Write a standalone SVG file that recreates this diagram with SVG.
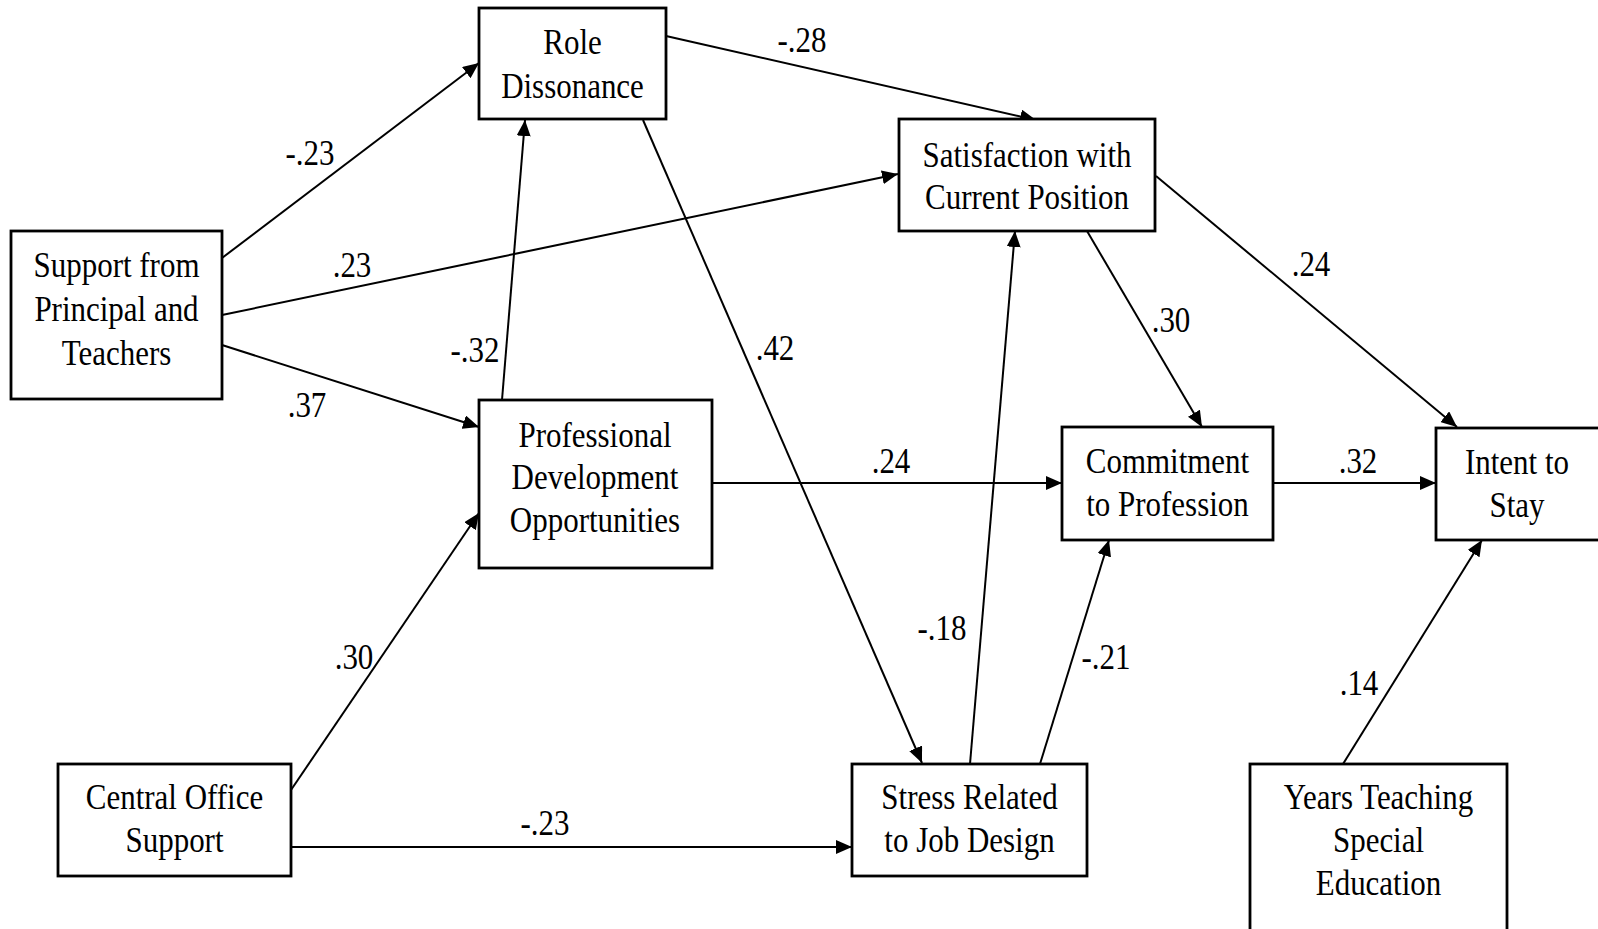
<svg xmlns="http://www.w3.org/2000/svg" width="1598" height="929" viewBox="0 0 1598 929">
<style>
.box{fill:#fff;stroke:#000;stroke-width:2.8}
.lbl{font-family:"Liberation Serif","Times New Roman",serif;font-size:35px;fill:#000;text-anchor:middle}
.edge{stroke:#000;stroke-width:2;fill:none;marker-end:url(#ah)}
</style>
<defs>
<marker id="ah" markerUnits="userSpaceOnUse" markerWidth="16" markerHeight="14" refX="16" refY="7" orient="auto">
<path d="M0,0 L16,7 L0,14 z" fill="#000"/>
</marker>
</defs>
<rect width="1598" height="929" fill="#fff"/>
<g id="connectors">
<line class="edge" x1="222" y1="258" x2="479" y2="63"/>
<line class="edge" x1="222" y1="315" x2="898" y2="174"/>
<line class="edge" x1="222" y1="345" x2="479" y2="427"/>
<line class="edge" x1="502" y1="400" x2="525" y2="120"/>
<line class="edge" x1="666" y1="36" x2="1036" y2="120"/>
<line class="edge" x1="643" y1="120" x2="922" y2="763"/>
<line class="edge" x1="712" y1="483" x2="1062" y2="483"/>
<line class="edge" x1="1087" y1="231" x2="1202" y2="427"/>
<line class="edge" x1="1156" y1="176" x2="1457" y2="427"/>
<line class="edge" x1="1273" y1="483" x2="1436" y2="483"/>
<line class="edge" x1="970" y1="764" x2="1015" y2="231"/>
<line class="edge" x1="1040" y1="764" x2="1109" y2="540"/>
<line class="edge" x1="291" y1="790" x2="479" y2="513"/>
<line class="edge" x1="291" y1="847" x2="852" y2="847"/>
<line class="edge" x1="1343" y1="764" x2="1482" y2="540"/>
<g id="edge-labels">
<text class="lbl" transform="matrix(0.885 0 0 1 310 165)">-.23</text>
<text class="lbl" transform="matrix(0.885 0 0 1 352 277)">.23</text>
<text class="lbl" transform="matrix(0.885 0 0 1 307 417)">.37</text>
<text class="lbl" transform="matrix(0.885 0 0 1 475 362)">-.32</text>
<text class="lbl" transform="matrix(0.885 0 0 1 802 52)">-.28</text>
<text class="lbl" transform="matrix(0.885 0 0 1 775 360)">.42</text>
<text class="lbl" transform="matrix(0.885 0 0 1 1171 332)">.30</text>
<text class="lbl" transform="matrix(0.885 0 0 1 1311 276)">.24</text>
<text class="lbl" transform="matrix(0.885 0 0 1 891 473)">.24</text>
<text class="lbl" transform="matrix(0.885 0 0 1 1358 473)">.32</text>
<text class="lbl" transform="matrix(0.885 0 0 1 942 640)">-.18</text>
<text class="lbl" transform="matrix(0.885 0 0 1 1106 669)">-.21</text>
<text class="lbl" transform="matrix(0.885 0 0 1 1359 695)">.14</text>
<text class="lbl" transform="matrix(0.885 0 0 1 354 669)">.30</text>
<text class="lbl" transform="matrix(0.885 0 0 1 545 835)">-.23</text>
</g>
</g>
<g id="role">
<rect class="box" x="479" y="8" width="187" height="111"/>
<text class="lbl" transform="matrix(0.885 0 0 1 572.5 54)"><tspan x="0" y="0">Role</tspan><tspan x="0" y="44">Dissonance</tspan></text>
</g>
<g id="satisfaction">
<rect class="box" x="899" y="119" width="256" height="112"/>
<text class="lbl" transform="matrix(0.885 0 0 1 1027 166.5)"><tspan x="0" y="0">Satisfaction with</tspan><tspan x="0" y="43">Current Position</tspan></text>
</g>
<g id="support">
<rect class="box" x="11" y="231" width="211" height="168"/>
<text class="lbl" transform="matrix(0.885 0 0 1 116.5 277)"><tspan x="0" y="0">Support from</tspan><tspan x="0" y="44">Principal and</tspan><tspan x="0" y="88">Teachers</tspan></text>
</g>
<g id="profdev">
<rect class="box" x="479" y="400" width="233" height="168"/>
<text class="lbl" transform="matrix(0.885 0 0 1 595 446.5)"><tspan x="0" y="0">Professional</tspan><tspan x="0" y="43">Development</tspan><tspan x="0" y="86">Opportunities</tspan></text>
</g>
<g id="commitment">
<rect class="box" x="1062" y="427" width="211" height="113"/>
<text class="lbl" transform="matrix(0.885 0 0 1 1167.5 473)"><tspan x="0" y="0">Commitment</tspan><tspan x="0" y="43.5">to Profession</tspan></text>
</g>
<g id="intent">
<rect class="box" x="1436" y="428" width="164" height="112"/>
<text class="lbl" transform="matrix(0.885 0 0 1 1517 474)"><tspan x="0" y="0">Intent to</tspan><tspan x="0" y="43">Stay</tspan></text>
</g>
<g id="central">
<rect class="box" x="58" y="764" width="233" height="112"/>
<text class="lbl" transform="matrix(0.885 0 0 1 174.5 809)"><tspan x="0" y="0">Central Office</tspan><tspan x="0" y="43">Support</tspan></text>
</g>
<g id="stress">
<rect class="box" x="852" y="764" width="235" height="112"/>
<text class="lbl" transform="matrix(0.885 0 0 1 969.5 809)"><tspan x="0" y="0">Stress Related</tspan><tspan x="0" y="43.5">to Job Design</tspan></text>
</g>
<g id="years">
<rect class="box" x="1250" y="764" width="257" height="175"/>
<text class="lbl" transform="matrix(0.885 0 0 1 1378.5 809)"><tspan x="0" y="0">Years Teaching</tspan><tspan x="0" y="43.5">Special</tspan><tspan x="0" y="86">Education</tspan></text>
</g>
</svg>
